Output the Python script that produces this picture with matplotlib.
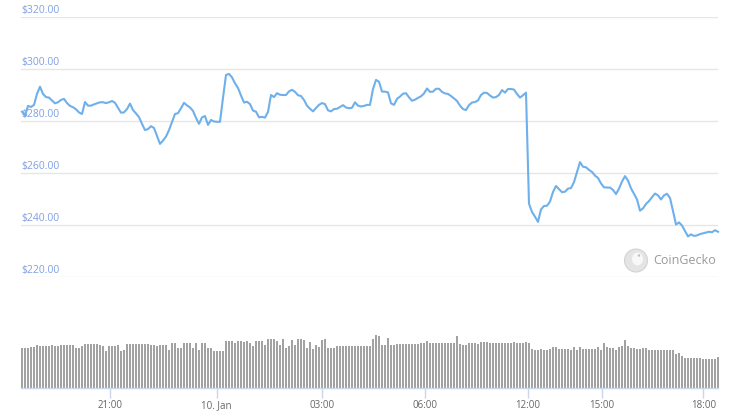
import matplotlib
matplotlib.use("Agg")
import matplotlib.pyplot as plt
from matplotlib.patches import Circle, Ellipse
import numpy as np

# ---------------- data ----------------
price = [
    283.6, 281.9, 285.8, 285.4, 286.2, 290.4, 293.2, 290.4, 289.2, 289.0,
    287.9, 286.8, 287.2, 288.1, 288.5, 286.9, 285.8, 285.3, 284.5, 283.3,
    282.7, 287.3, 285.9, 285.9, 286.4, 286.8, 287.2, 287.2, 286.9, 287.2,
    287.7, 287.0, 285.1, 283.2, 283.3, 284.6, 286.7, 284.2, 282.9, 281.5,
    278.9, 276.5, 276.9, 278.0, 277.3, 274.2, 271.2, 272.5, 274.0, 276.5,
    279.6, 282.7, 283.0, 284.9, 287.0, 286.0, 285.2, 283.9, 281.2, 278.9,
    281.4, 281.9, 278.5, 280.4, 279.8, 279.7, 279.7, 288.9, 297.7, 298.1,
    296.8, 294.5, 292.7, 289.8, 287.1, 287.4, 286.5, 284.0, 283.6, 281.4,
    281.6, 281.3, 283.5, 290.0, 289.2, 290.7, 290.1, 290.0, 290.0, 291.4,
    292.0, 291.2, 289.9, 289.6, 288.1, 285.9, 284.7, 283.7, 285.0, 286.2,
    286.9, 286.5, 284.1, 283.7, 284.6, 284.7, 285.4, 286.1, 285.2, 284.9,
    285.1, 287.2, 285.9, 285.6, 285.8, 286.2, 286.2, 292.3, 295.8, 295.1,
    291.3, 291.3, 291.0, 286.8, 286.2, 288.5, 289.4, 290.5, 290.7, 289.1,
    287.8, 288.2, 288.9, 289.5, 290.6, 292.5, 291.2, 291.3, 292.4, 292.4,
    291.2, 290.6, 290.4, 289.6, 288.7, 287.7, 285.9, 284.6, 284.2, 286.1,
    287.1, 287.3, 287.9, 290.0, 290.9, 290.8, 289.8, 289.0, 289.2, 290.0,
    291.9, 290.9, 292.3, 292.3, 292.1, 290.4, 289.0, 289.9, 290.9, 248.2,
    245.0, 243.2, 241.2, 246.0, 247.3, 247.4, 249.0, 252.7, 255.0, 253.8,
    252.6, 252.8, 254.0, 254.2, 256.5, 260.4, 264.2, 262.4, 262.2, 261.2,
    260.4, 259.0, 258.1, 256.0, 254.5, 254.4, 254.4, 253.5, 251.9, 254.0,
    256.7, 258.8, 257.1, 254.1, 252.0, 249.8, 245.5, 246.4, 248.1, 249.2,
    250.7, 252.1, 251.4, 249.8, 251.4, 252.0, 250.4, 245.4, 240.2, 241.0,
    239.8, 237.7, 235.6, 236.4, 235.8, 236.0, 236.5, 236.8, 237.1, 237.4,
    237.2, 238.0, 237.4,
]

volume = [
    40, 40, 40, 41, 41, 43, 42, 42, 42, 42, 43, 42, 42, 43, 43, 43, 43, 43,
    40, 40, 42, 44, 44, 44, 44, 44, 43, 42, 37, 42, 42, 42, 43, 37, 38,
    44, 44, 44, 44, 44, 44, 44, 44, 43, 43, 42, 43, 43, 43, 38, 45, 45,
    40, 40, 45, 45, 45, 40, 45, 38, 45, 45, 40, 40, 37, 37, 37, 37,
    47, 47, 47, 45, 47, 47, 46, 47, 45, 42, 47, 47, 47, 43, 49, 49, 49,
    47, 43, 49, 40, 42, 48, 43, 49, 49, 48, 40, 46, 39, 43, 41, 48, 49,
    40, 40, 40, 42, 42, 42, 42, 42, 42, 42, 42, 42, 42, 42, 42, 49, 53, 52,
    43, 43, 50, 43, 43, 44, 44, 44, 44, 44, 44, 44, 44, 45, 45, 47,
    45, 45, 45, 45, 45, 45, 45, 45, 45, 52, 44, 43, 43, 45, 45, 45, 44,
    46, 46, 46, 45, 45, 45, 45, 45, 45, 45, 45, 46, 45, 45, 45, 46, 45,
    39, 38, 38, 39, 38, 38, 39, 41, 41, 39, 39, 39, 39, 38, 41, 38, 41,
    39, 39, 39, 39, 39, 41, 38, 45, 41, 40, 40, 38, 41, 42, 47.6, 42,
    40, 40, 39, 39, 40, 40, 38, 38, 38, 38, 38, 38, 38, 38, 38,
    34, 35, 31.6, 30, 30, 30, 30, 30, 30, 29, 29, 29, 29, 29, 31,
]

tick_index = [29.3, 64.9, 100.1, 134.3, 168.6, 193.4, 227.1]
tick_labels = ["21:00", "10. Jan", "03:00", "06:00", "12:00", "15:00", "18:00"]
price_ticks = [220, 240, 260, 280, 300, 320]

# ---------------- style ----------------
W, H = 738, 417
FONT = ["Open Sans", "DejaVu Sans"]
LINE_C = "#6fb0ea"
LABEL_C = "#7f9fe3"
GRID_C = "#e6e6e6"
AXIS_C = "#ccd6eb"

fig = plt.figure(figsize=(W / 100, H / 100), dpi=100)
fig.patch.set_facecolor("white")

x = np.arange(len(price))
xv = np.arange(len(volume))
xlim = (-1 / 3, len(price) - 1)

# price panel
axp = fig.add_axes([21 / W, 1 - 277 / H, 697 / W, 260 / H])
axp.set_xlim(*xlim)
axp.set_ylim(220, 320)
for s in axp.spines.values():
    s.set_visible(False)
axp.set_xticks([])
axp.set_yticks([])
for v in price_ticks:
    axp.axhline(v, color=GRID_C, lw=1.0, zorder=0)
    axp.annotate(f"${v:.2f}", xy=(0, v), xycoords=axp.get_yaxis_transform(),
                 xytext=(0, 1.5), textcoords="offset pixels",
                 ha="left", va="bottom", fontsize=7.5, color=LABEL_C,
                 family=FONT, zorder=1)
axp.plot(x, price, color=LINE_C, lw=1.5, zorder=3, clip_on=False,
         solid_joinstyle="round")

# volume panel
axv = fig.add_axes([21 / W, 1 - 388 / H, 697 / W, 88 / H])
axv.set_xlim(*xlim)
axv.set_ylim(0, 88)
for k, s in axv.spines.items():
    s.set_visible(k == "bottom")
axv.spines["bottom"].set_color(AXIS_C)
axv.spines["bottom"].set_linewidth(1.0)
bars = axv.bar(xv, volume, width=0.6, color="#a2a2a2", edgecolor="none",
               linewidth=0, zorder=2, antialiased=False)
for b in bars:
    b.set_clip_on(False)
axv.set_yticks([])
axv.set_xticks(tick_index)
axv.set_xticklabels(tick_labels, family=FONT, fontsize=7, color="#666666")
axv.tick_params(axis="x", length=7, width=1, color=AXIS_C, pad=2)

# CoinGecko watermark
wm = fig.add_axes([0, 0, 1, 1], facecolor="none")
wm.set_xlim(0, W)
wm.set_ylim(H, 0)
wm.axis("off")
wm.add_patch(Circle((636, 260.5), 11.5, facecolor="#e4e4e4", edgecolor="#d4d4d4", lw=0.8))
wm.add_patch(Ellipse((637.5, 259), 11, 13, facecolor="#f8f8f8", edgecolor="none"))
wm.add_patch(Circle((639, 255.5), 1.2, facecolor="#bdbdbd", edgecolor="none"))
wm.text(653, 260, "CoinGecko", fontsize=9, color="#9a9a9a", family=FONT,
        ha="left", va="center")

fig.savefig("out.png", dpi=100, facecolor="white")
